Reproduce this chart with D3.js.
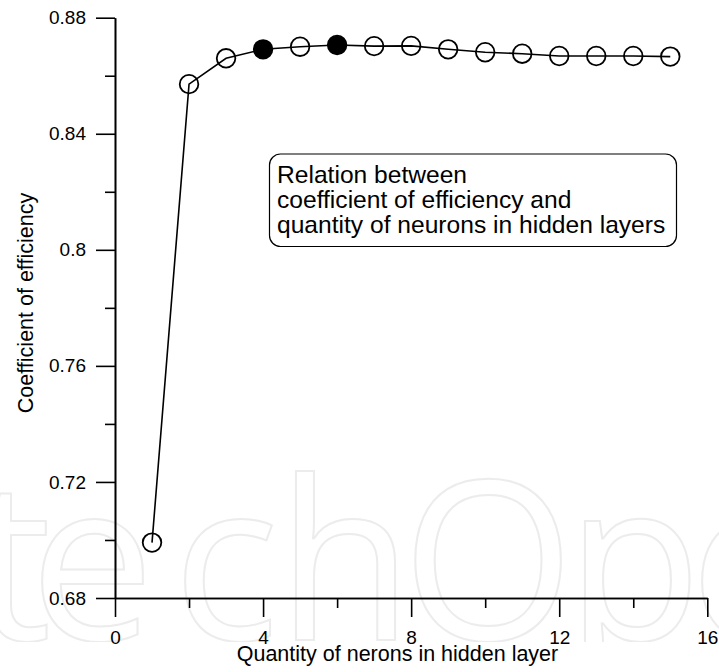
<!DOCTYPE html>
<html>
<head>
<meta charset="utf-8">
<script src="https://cdn.jsdelivr.net/npm/d3@7"></script>
<style>
  html, body { margin: 0; padding: 0; background: #fff; }
  svg { display: block; }
  text { font-family: "Liberation Sans", Arial, Helvetica, sans-serif; }
</style>
</head>
<body>
<svg id="chart" width="719" height="672"></svg>
<script>
// ---- data ----
const neurons = [1, 2, 3, 4, 5, 6, 7, 8, 9, 10, 11, 12, 13, 14, 15];
const efficiency = [0.6991, 0.8571, 0.8660, 0.8691, 0.8700, 0.8706, 0.8702, 0.8703,
                    0.8691, 0.8681, 0.8676, 0.8668, 0.8668, 0.8668, 0.8666];
const filledPoints = [4, 6];
const xMajorTicks = [0, 4, 8, 12, 16];
const xMinorTicks = [2, 6, 10, 14];
const yMajorTicks = [0.68, 0.72, 0.76, 0.80, 0.84, 0.88];
const yMinorTicks = [0.70, 0.74, 0.78, 0.82, 0.86];
const yTickLabels = ["0.68", "0.72", "0.76", "0.8", "0.84", "0.88"];
const xTitle = "Quantity of nerons in hidden layer";
const yTitle = "Coefficient of efficiency";
const noteLines = ["Relation between", "coefficient of efficiency and", "quantity of neurons in hidden layers"];
const watermarkLetters = ["t", "e", "c", "h", "O", "p", "e"];
const watermarkCenters = [12, 92, 226, 345, 488, 634, 752];

// ---- layout ----
const svg = d3.select("#chart");
const x = d3.scaleLinear().domain([0, 16]).range([115, 707.3]);
const y = d3.scaleLinear().domain([0.68, 0.88]).range([598, 17.7]);

// watermark (clipped at its lower edge as in the reference)
svg.append("defs").append("clipPath").attr("id", "wmclip")
  .append("rect").attr("x", 0).attr("y", 0).attr("width", 719).attr("height", 642);
const wm = svg.append("g").attr("clip-path", "url(#wmclip)");
wm.selectAll("text").data(watermarkLetters).join("text")
  .attr("x", (d, i) => watermarkCenters[i])
  .attr("y", 640)
  .attr("text-anchor", "middle")
  .style("font-family", "'Open Sans', sans-serif")
  .style("font-size", "222px")
  .attr("fill", "none")
  .attr("stroke", "#ececec")
  .attr("stroke-width", 2)
  .text(d => d);

// axes
const fmt = d => yTickLabels[yMajorTicks.indexOf(d)];
const gy = svg.append("g").attr("transform", `translate(${x(0)},0)`)
  .call(d3.axisLeft(y).tickValues(yMajorTicks).tickSize(19).tickSizeOuter(0).tickPadding(10).tickFormat(fmt));
const gyMinor = svg.append("g").attr("transform", `translate(${x(0)},0)`)
  .call(d3.axisLeft(y).tickValues(yMinorTicks).tickSize(10).tickSizeOuter(0).tickFormat(""));
const gx = svg.append("g").attr("transform", `translate(0,${y(0.68)})`)
  .call(d3.axisBottom(x).tickValues(xMajorTicks).tickSize(19).tickSizeOuter(0).tickPadding(14).tickFormat(d3.format("d")));
const gxMinor = svg.append("g").attr("transform", `translate(0,${y(0.68)})`)
  .call(d3.axisBottom(x).tickValues(xMinorTicks).tickSize(10).tickSizeOuter(0).tickFormat(""));

[gy, gyMinor, gx, gxMinor].forEach(g => {
  g.selectAll("path.domain").attr("stroke", "#000").attr("stroke-width", 1.6);
  g.selectAll(".tick line").attr("stroke", "#000").attr("stroke-width", 1.6);
  g.selectAll(".tick text").attr("fill", "#000")
    .style("font-family", "'Liberation Sans', Arial, sans-serif").style("font-size", "19px");
});
gx.selectAll(".tick text").attr("dy", "0.71em");

// axis titles
svg.append("text")
  .attr("x", 397.5)
  .attr("y", 661)
  .attr("text-anchor", "middle")
  .style("font-size", "21.5px")
  .text(xTitle);
svg.append("text")
  .attr("transform", `translate(33,${303}) rotate(-90)`)
  .attr("text-anchor", "middle")
  .style("font-size", "21.5px")
  .text(yTitle);

// line
const line = d3.line().x((d, i) => x(neurons[i])).y(d => y(d));
svg.append("path")
  .datum(efficiency)
  .attr("d", line)
  .attr("fill", "none")
  .attr("stroke", "#000")
  .attr("stroke-width", 1.6);

// markers
svg.append("g").selectAll("circle").data(efficiency).join("circle")
  .attr("cx", (d, i) => x(neurons[i]))
  .attr("cy", d => y(d))
  .attr("r", 9.3)
  .attr("fill", (d, i) => filledPoints.includes(neurons[i]) ? "#000" : "none")
  .attr("stroke", "#000")
  .attr("stroke-width", 1.8);

// note box
const note = svg.append("g");
note.append("rect")
  .attr("x", 269.5).attr("y", 154)
  .attr("width", 407).attr("height", 92.5)
  .attr("rx", 11).attr("ry", 11)
  .attr("fill", "#fff")
  .attr("stroke", "#000")
  .attr("stroke-width", 1.2);
note.selectAll("text").data(noteLines).join("text")
  .attr("x", 277)
  .attr("y", (d, i) => 183 + i * 25.2)
  .style("font-size", "24.6px")
  .attr("fill", "#000")
  .text(d => d);
</script>
</body>
</html>
